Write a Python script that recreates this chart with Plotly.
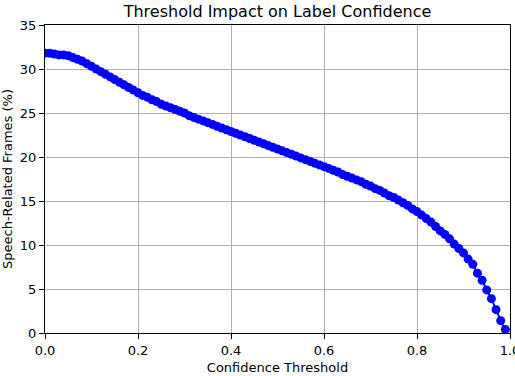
import plotly.graph_objects as go

thresholds = [i / 100 for i in range(100)]
speech_pct = [
    31.8, 31.8, 31.7, 31.6, 31.6, 31.5, 31.3, 31.1, 30.9, 30.6,
    30.3, 30.0, 29.7, 29.4, 29.1, 28.8, 28.5, 28.2, 27.9, 27.6,
    27.3, 27.0, 26.8, 26.5, 26.3, 26.0, 25.8, 25.6, 25.4, 25.2,
    25.0, 24.7, 24.5, 24.3, 24.1, 23.9, 23.7, 23.5, 23.3, 23.1,
    22.9, 22.7, 22.5, 22.3, 22.1, 21.9, 21.7, 21.5, 21.3, 21.1,
    20.9, 20.7, 20.5, 20.3, 20.1, 19.9, 19.7, 19.5, 19.3, 19.1,
    18.9, 18.7, 18.5, 18.3, 18.0, 17.8, 17.6, 17.4, 17.2, 16.9,
    16.7, 16.4, 16.2, 15.9, 15.6, 15.4, 15.1, 14.8, 14.5, 14.1,
    13.8, 13.4, 13.0, 12.6, 12.1, 11.6, 11.2, 10.7, 10.1, 9.6,
    9.1, 8.4, 7.8, 6.8, 6.0, 4.9, 3.9, 2.65, 1.4, 0.4,
]

x_ticks = [0.0, 0.2, 0.4, 0.6, 0.8, 1.0]
x_ticklabels = ["0.0", "0.2", "0.4", "0.6", "0.8", "1.0"]
y_ticks = [0, 5, 10, 15, 20, 25, 30, 35]

fig = go.Figure()
fig.add_trace(go.Scatter(
    x=thresholds, y=speech_pct, mode="lines+markers",
    line=dict(color="#0000ff", width=2),
    marker=dict(color="#0000ff", size=9),
))

axis_common = dict(
    showline=True, linecolor="black", linewidth=1, mirror=True,
    ticks="outside", ticklen=5, tickwidth=1, tickcolor="black",
    showgrid=True, gridcolor="#b0b0b0", gridwidth=1,
    zeroline=False, automargin=False, ticklabeloverflow="allow",
    tickfont=dict(size=13, color="black"),
)

fig.update_layout(
    width=515, height=376,
    margin=dict(l=45, r=5, t=25, b=43),
    paper_bgcolor="white", plot_bgcolor="white",
    font=dict(family="DejaVu Sans", color="black"),
    showlegend=False,
    title=dict(
        text="Threshold Impact on Label Confidence",
        x=0.5, xref="paper", xanchor="center",
        y=1 - 11 / 376, yanchor="middle",
        font=dict(size=16, color="black"),
    ),
    xaxis=dict(
        axis_common, range=[0, 1], tickvals=x_ticks, ticktext=x_ticklabels,
        title=dict(text="Confidence Threshold", font=dict(size=13), standoff=6),
    ),
    yaxis=dict(
        axis_common, range=[0, 35], tickvals=y_ticks,
        title=dict(text="Speech-Related Frames (%)", font=dict(size=13), standoff=7),
    ),
)

# page has a default 8px body margin; drop it so the figure fills the window
fig.write_html(
    "out.html",
    config={"displayModeBar": False},
    post_script="document.body.style.margin='0';",
)
